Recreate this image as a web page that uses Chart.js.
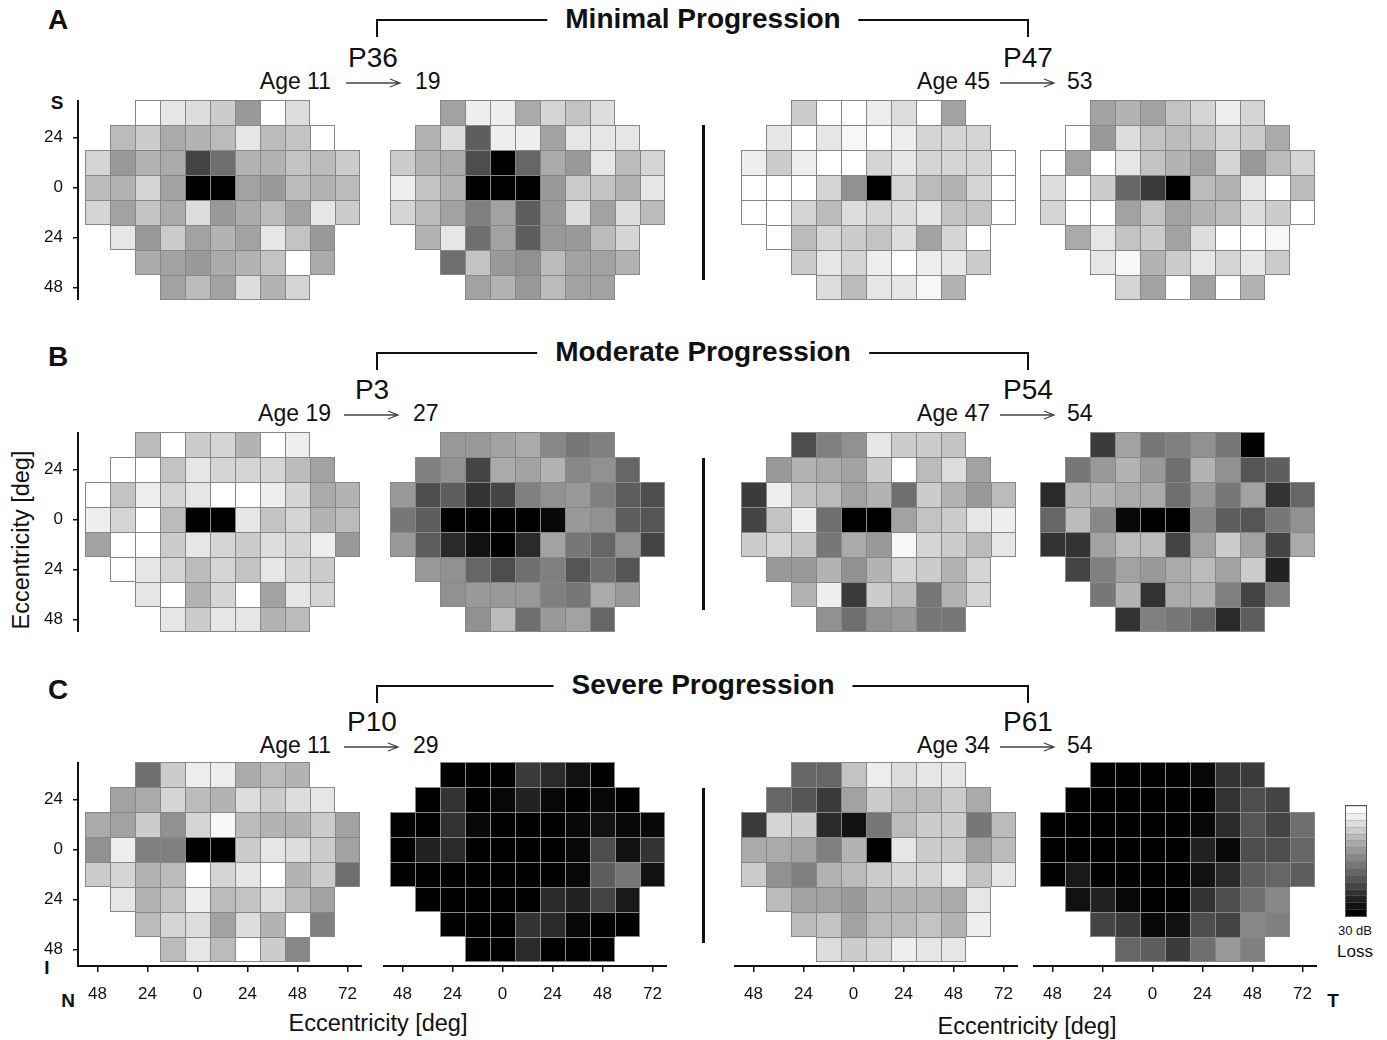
<!DOCTYPE html>
<html>
<head>
<meta charset="utf-8">
<script src="https://cdn.jsdelivr.net/npm/chart.js@4.4.1/dist/chart.umd.min.js"></script>
<style>
  body { margin: 0; background: #fff; width: 1387px; height: 1040px; position: relative; overflow: hidden;
         font-family: "Liberation Sans", Arial, sans-serif; color: #111; }
  .t { position: absolute; white-space: nowrap; line-height: 1; transform: translate(-50%, -50%); }
  .r { position: absolute; white-space: nowrap; line-height: 1; transform: translate(-100%, -50%); }
  .l { position: absolute; white-space: nowrap; line-height: 1; transform: translate(0, -50%); }
  .ln { position: absolute; background: #111; }
  .panel { position: absolute; }
  .ttl { font-weight: bold; font-size: 28px; background: #fff; padding: 0 18px; }
  .pid { font-size: 28px; }
  .age { font-size: 23px; }
  .big { font-weight: bold; font-size: 28px; }
  .ax { font-weight: bold; font-size: 19px; }
  .axt { font-size: 23.5px; }
</style>
</head>
<body>

<!-- panel letters -->
<div class="t big" style="left:58px;top:20px">A</div>
<div class="t big" style="left:58px;top:357px">B</div>
<div class="t big" style="left:58px;top:690px">C</div>

<!-- brackets -->
<div class="ln" style="left:376px;top:19px;width:653px;height:2px"></div>
<div class="ln" style="left:376px;top:19px;width:2px;height:18px"></div>
<div class="ln" style="left:1027px;top:19px;width:2px;height:18px"></div>
<div class="ln" style="left:376px;top:352px;width:653px;height:2px"></div>
<div class="ln" style="left:376px;top:352px;width:2px;height:18px"></div>
<div class="ln" style="left:1027px;top:352px;width:2px;height:18px"></div>
<div class="ln" style="left:376px;top:685px;width:653px;height:2px"></div>
<div class="ln" style="left:376px;top:685px;width:2px;height:18px"></div>
<div class="ln" style="left:1027px;top:685px;width:2px;height:18px"></div>

<div class="t ttl" style="left:703px;top:19px">Minimal Progression</div>
<div class="t ttl" style="left:703px;top:352px">Moderate Progression</div>
<div class="t ttl" style="left:703px;top:685px">Severe Progression</div>

<!-- patient ids and ages -->
<div class="t pid" style="left:373px;top:58px">P36</div>
<div class="t pid" style="left:1028px;top:58px">P47</div>
<div class="t pid" style="left:372px;top:390px">P3</div>
<div class="t pid" style="left:1028px;top:390px">P54</div>
<div class="t pid" style="left:372px;top:722px">P10</div>
<div class="t pid" style="left:1028px;top:722px">P61</div>

<div class="r age" style="left:331px;top:81px">Age 11</div>
<div class="l age" style="left:415px;top:81px">19</div>
<div class="r age" style="left:990px;top:81px">Age 45</div>
<div class="l age" style="left:1067px;top:81px">53</div>
<div class="r age" style="left:331px;top:413px">Age 19</div>
<div class="l age" style="left:413px;top:413px">27</div>
<div class="r age" style="left:990px;top:413px">Age 47</div>
<div class="l age" style="left:1067px;top:413px">54</div>
<div class="r age" style="left:331px;top:745px">Age 11</div>
<div class="l age" style="left:413px;top:745px">29</div>
<div class="r age" style="left:990px;top:745px">Age 34</div>
<div class="l age" style="left:1067px;top:745px">54</div>

<svg style="position:absolute;left:0;top:0" width="1387" height="1040">
  <g stroke="#444" stroke-width="1.3" fill="none">
    <path d="M346 83 H400 M390 79 L400 83 L390 87"/>
    <path d="M1000 83 H1054 M1044 79 L1054 83 L1044 87"/>
    <path d="M344 415 H398 M388 411 L398 415 L388 419"/>
    <path d="M1000 415 H1054 M1044 411 L1054 415 L1044 419"/>
    <path d="M344 747 H398 M388 743 L398 747 L388 751"/>
    <path d="M1000 747 H1054 M1044 743 L1054 747 L1044 751"/>
  </g>
</svg>

<!-- separators between the two patients of a row -->
<div class="ln" style="left:702px;top:125px;width:3px;height:155px"></div>
<div class="ln" style="left:702px;top:458px;width:3px;height:152px"></div>
<div class="ln" style="left:702px;top:788px;width:3px;height:155px"></div>

<!-- axis letters and titles -->
<div class="t ax" style="left:57px;top:102px">S</div>
<div class="t ax" style="left:47px;top:967px">I</div>
<div class="t ax" style="left:68px;top:1000px">N</div>
<div class="t ax" style="left:1333px;top:1000px">T</div>
<div class="t axt" style="left:378px;top:1024px">Eccentricity [deg]</div>
<div class="t axt" style="left:1027px;top:1027px">Eccentricity [deg]</div>
<div class="t axt" style="left:22px;top:540px;transform:translate(-50%,-50%) rotate(-90deg)">Eccentricity [deg]</div>

<!-- colour scale -->
<div id="cbar" style="position:absolute;left:1345px;top:805px;width:20px;height:110px;border:1px solid #555;display:flex;flex-direction:column"></div>
<div class="t" style="left:1355px;top:930px;font-size:13px">30 dB</div>
<div class="t" style="left:1355px;top:951px;font-size:17px">Loss</div>

<div id="charts"></div>

<script>
// Perimetry grids: 8 rows x 11 columns (12 deg spacing), loss in dB (0 = white, 30 = black)
const colDeg = [-48, -36, -24, -12, 0, 12, 24, 36, 48, 60, 72];
const rowDeg = [36, 24, 12, 0, -12, -24, -36, -48];
const rowFirstCol = [2, 1, 0, 0, 0, 1, 2, 3];
const xTicks = [-48, -24, 0, 24, 48, 72];
const yTicks = [24, 0, -24, -48];
const MAX_LOSS = 30;

const p36Age11 = [
  [0, 3, 4, 6, 12, 0, 4],
  [8, 6, 10, 9, 8, 3, 8, 7, 0],
  [5, 12, 9, 10, 22, 17, 9, 9, 7, 8, 6],
  [8, 9, 5, 11, 30, 30, 11, 12, 8, 9, 8],
  [5, 11, 7, 10, 4, 12, 10, 8, 11, 3, 6],
  [3, 12, 6, 11, 9, 11, 3, 7, 12],
  [10, 11, 12, 10, 9, 7, 0, 10],
  [11, 8, 11, 4, 9, 5]
];
const p36Age19 = [
  [11, 2, 2, 10, 5, 7, 4],
  [9, 4, 19, 2, 2, 11, 3, 3, 3],
  [6, 9, 10, 21, 30, 18, 10, 12, 3, 8, 5],
  [2, 7, 9, 30, 30, 30, 12, 6, 7, 9, 3],
  [5, 8, 11, 15, 11, 19, 12, 4, 11, 4, 8],
  [9, 3, 17, 11, 19, 12, 12, 8, 5],
  [17, 7, 12, 13, 8, 11, 11, 9],
  [11, 9, 12, 8, 11, 11]
];
const p47Age45 = [
  [6, 0, 0, 2, 4, 0, 11],
  [3, 0, 3, 1, 0, 2, 5, 5, 5],
  [2, 6, 2, 0, 0, 5, 3, 5, 5, 5, 0],
  [0, 0, 0, 5, 13, 30, 5, 8, 9, 5, 0],
  [0, 0, 5, 8, 4, 5, 4, 3, 7, 7, 0],
  [0, 8, 5, 6, 7, 4, 11, 5, 0],
  [6, 3, 5, 2, 0, 2, 3, 6],
  [4, 8, 3, 3, 1, 9]
];
const p47Age53 = [
  [11, 9, 11, 7, 5, 2, 5],
  [0, 12, 4, 7, 8, 7, 5, 6, 10],
  [0, 11, 0, 3, 7, 9, 11, 5, 12, 8, 5],
  [4, 0, 6, 18, 23, 30, 8, 9, 3, 0, 8],
  [5, 0, 0, 11, 7, 11, 9, 8, 4, 6, 0],
  [10, 3, 7, 6, 11, 4, 0, 0, 1],
  [3, 1, 9, 6, 3, 5, 3, 6],
  [5, 11, 0, 11, 0, 9]
];
const p3Age19 = [
  [8, 0, 6, 5, 9, 0, 2],
  [0, 0, 7, 3, 5, 5, 5, 8, 11],
  [0, 7, 2, 5, 3, 0, 0, 2, 5, 10, 9],
  [2, 5, 0, 8, 30, 30, 3, 7, 5, 9, 8],
  [11, 0, 0, 6, 3, 5, 6, 4, 5, 2, 12],
  [0, 3, 5, 8, 5, 7, 3, 5, 6],
  [3, 0, 9, 5, 0, 11, 3, 5],
  [3, 6, 3, 3, 9, 8]
];
const p3Age27 = [
  [12, 12, 11, 10, 14, 16, 15],
  [15, 13, 22, 10, 11, 9, 14, 13, 18],
  [12, 21, 19, 24, 22, 15, 13, 12, 15, 19, 21],
  [16, 19, 30, 30, 30, 30, 29, 12, 13, 19, 20],
  [12, 19, 25, 28, 30, 25, 11, 16, 18, 13, 22],
  [12, 13, 18, 21, 17, 15, 20, 17, 20],
  [13, 12, 12, 12, 15, 16, 10, 12],
  [13, 8, 17, 12, 11, 18]
];
const p54Age47 = [
  [21, 15, 13, 3, 6, 6, 7],
  [12, 9, 10, 11, 6, 0, 8, 4, 11],
  [23, 2, 7, 8, 11, 9, 17, 6, 9, 12, 8],
  [22, 7, 2, 17, 30, 30, 11, 7, 6, 3, 2],
  [6, 5, 7, 16, 10, 12, 1, 5, 6, 8, 3],
  [12, 12, 9, 13, 9, 5, 6, 9, 5],
  [9, 2, 23, 6, 8, 16, 9, 5],
  [13, 17, 13, 12, 16, 16]
];
const p54Age54 = [
  [23, 11, 16, 15, 13, 16, 30],
  [16, 12, 9, 12, 17, 9, 13, 20, 19],
  [25, 9, 9, 10, 10, 17, 12, 16, 11, 24, 18],
  [18, 8, 14, 29, 30, 30, 14, 19, 20, 16, 13],
  [24, 24, 11, 8, 8, 22, 11, 6, 11, 22, 10],
  [22, 15, 11, 12, 10, 8, 11, 6, 26],
  [16, 9, 24, 10, 9, 15, 22, 15],
  [24, 15, 16, 18, 25, 19]
];
const p10Age11 = [
  [17, 6, 2, 2, 10, 8, 9],
  [11, 10, 5, 8, 9, 4, 6, 4, 3],
  [10, 11, 6, 13, 5, 1, 8, 9, 9, 6, 11],
  [13, 2, 15, 15, 30, 30, 6, 3, 4, 6, 11],
  [6, 5, 9, 8, 0, 5, 3, 0, 9, 6, 17],
  [3, 9, 7, 2, 8, 7, 4, 8, 11],
  [8, 5, 4, 11, 4, 9, 0, 15],
  [8, 3, 8, 0, 6, 14]
];
const p10Age29 = [
  [30, 30, 30, 23, 25, 28, 30],
  [30, 24, 30, 29, 26, 29, 30, 29, 30],
  [30, 30, 24, 29, 30, 30, 30, 29, 28, 29, 29],
  [30, 26, 25, 30, 30, 30, 30, 29, 21, 28, 24],
  [30, 30, 30, 30, 30, 30, 30, 29, 19, 16, 28],
  [30, 30, 30, 30, 30, 25, 26, 22, 27],
  [30, 30, 30, 24, 25, 29, 30, 30],
  [30, 30, 25, 30, 30, 30]
];
const p61Age34 = [
  [18, 18, 7, 2, 4, 3, 3],
  [18, 20, 23, 11, 6, 8, 8, 6, 10],
  [23, 5, 6, 25, 28, 16, 8, 6, 6, 16, 8],
  [10, 10, 11, 15, 9, 30, 3, 6, 6, 11, 8],
  [6, 13, 15, 9, 8, 6, 5, 5, 3, 7, 3],
  [8, 11, 11, 12, 9, 9, 9, 10, 3],
  [8, 7, 11, 8, 8, 7, 9, 2],
  [4, 6, 5, 2, 3, 3]
];
const p61Age54 = [
  [30, 30, 30, 30, 29, 24, 23],
  [30, 30, 30, 30, 30, 30, 24, 21, 22],
  [30, 30, 30, 30, 30, 30, 29, 25, 20, 22, 17],
  [30, 30, 30, 30, 30, 30, 26, 29, 21, 21, 18],
  [30, 27, 30, 30, 30, 30, 28, 25, 19, 18, 19],
  [28, 26, 29, 30, 30, 24, 21, 17, 14],
  [22, 23, 29, 28, 21, 22, 14, 15],
  [18, 19, 23, 17, 12, 15]
];

// page layout of the twelve grids (left/top of the cell block)
const panels = [
  { field: p36Age11, left: 85,   top: 100, yAxis: true,  xAxis: false },
  { field: p36Age19, left: 390,  top: 100, yAxis: false, xAxis: false },
  { field: p47Age45, left: 741,  top: 100, yAxis: false, xAxis: false },
  { field: p47Age53, left: 1040, top: 100, yAxis: false, xAxis: false },
  { field: p3Age19,  left: 85,   top: 432, yAxis: true,  xAxis: false },
  { field: p3Age27,  left: 390,  top: 432, yAxis: false, xAxis: false },
  { field: p54Age47, left: 741,  top: 432, yAxis: false, xAxis: false },
  { field: p54Age54, left: 1040, top: 432, yAxis: false, xAxis: false },
  { field: p10Age11, left: 85,   top: 762, yAxis: true,  xAxis: true },
  { field: p10Age29, left: 390,  top: 762, yAxis: false, xAxis: true },
  { field: p61Age34, left: 741,  top: 762, yAxis: false, xAxis: true },
  { field: p61Age54, left: 1040, top: 762, yAxis: false, xAxis: true }
];

const CELL_PX = 25;
const PPD = CELL_PX / 12;     // pixels per degree
const HALF = 6;               // half a cell, degrees
const AXIS_W = 40, AXIS_H = 45;
const PAD_L = 7, PAD_R = 2, PAD_B = 4;
const FONT = '"Liberation Sans", Arial, sans-serif';

Chart.defaults.font.family = FONT;
Chart.defaults.color = '#111';

function lossColor(v) {
  const g = Math.round(255 * (1 - v / MAX_LOSS));
  return `rgb(${g},${g},${g})`;
}

function inField(field, r, c) {
  if (r < 0 || r >= field.length) return false;
  const first = rowFirstCol[r];
  return c >= first && c < first + field[r].length;
}

function buildDatasets(field) {
  return field.map((row, r) => ({
    data: row.map((loss, i) => ({
      x: colDeg[rowFirstCol[r] + i],
      y: [rowDeg[r] - HALF, rowDeg[r] + HALF],
      loss: loss
    })),
    backgroundColor: ctx => ctx.raw ? lossColor(ctx.raw.loss) : '#fff',
    borderColor: '#878787',
    borderWidth: ctx => {
      if (ctx.dataIndex === undefined) return 1;
      const c = rowFirstCol[r] + ctx.dataIndex;
      return {
        top: 1, left: 1,
        right: inField(field, r, c + 1) ? 0 : 1,
        bottom: inField(field, r + 1, c) ? 0 : 1
      };
    },
    borderSkipped: false,
    grouped: false,
    inflateAmount: 0,
    barPercentage: 1,
    categoryPercentage: 1
  }));
}

function makePanel(p) {
  const w = (p.yAxis ? AXIS_W : 0) + PAD_L + colDeg.length * CELL_PX + PAD_R;
  const h = rowDeg.length * CELL_PX + (p.xAxis ? PAD_B + AXIS_H : 0);
  const div = document.createElement('div');
  div.className = 'panel';
  div.style.left = (p.left - PAD_L - (p.yAxis ? AXIS_W : 0)) + 'px';
  div.style.top = p.top + 'px';
  div.style.width = w + 'px';
  div.style.height = h + 'px';
  const canvas = document.createElement('canvas');
  div.appendChild(canvas);
  document.getElementById('charts').appendChild(div);

  new Chart(canvas, {
    type: 'bar',
    data: { datasets: buildDatasets(p.field) },
    options: {
      responsive: true,
      maintainAspectRatio: false,
      animation: false,
      events: [],
      layout: { padding: 0 },
      plugins: { legend: { display: false }, tooltip: { enabled: false } },
      scales: {
        x: {
          type: 'linear',
          position: 'bottom',
          offset: false,
          display: p.xAxis,
          min: colDeg[0] - HALF - PAD_L / PPD,
          max: colDeg[colDeg.length - 1] + HALF + PAD_R / PPD,
          afterBuildTicks: s => { s.ticks = xTicks.map(v => ({ value: v })); },
          afterFit: s => { s.height = p.xAxis ? AXIS_H : 0; s.paddingLeft = 0; s.paddingRight = 0; },
          border: { display: true, color: '#111', width: 2 },
          grid: { offset: false, drawOnChartArea: false, drawTicks: true, tickLength: 6, color: '#111', lineWidth: 1.5 },
          ticks: { padding: 12, color: '#111', font: { size: 17 }, maxRotation: 0,
                   callback: v => Math.abs(v) }
        },
        y: {
          type: 'linear',
          position: 'left',
          display: p.yAxis,
          min: rowDeg[rowDeg.length - 1] - HALF - (p.xAxis ? PAD_B / PPD : 0),
          max: rowDeg[0] + HALF,
          afterBuildTicks: s => { s.ticks = yTicks.map(v => ({ value: v })); },
          afterFit: s => { s.width = p.yAxis ? AXIS_W : 0; s.paddingTop = 0; s.paddingBottom = 0; },
          border: { display: true, color: '#111', width: 2 },
          grid: { drawOnChartArea: false, drawTicks: true, tickLength: 5, color: '#111', lineWidth: 1.5 },
          ticks: { padding: 10, color: '#111', font: { size: 17 },
                   callback: v => Math.abs(v) }
        }
      }
    }
  });
}

panels.forEach(makePanel);

// colour scale bands, white (0 dB) to black (30 dB)
const cbar = document.getElementById('cbar');
for (let v = 0; v <= MAX_LOSS; v += 2) {
  const band = document.createElement('div');
  band.style.flex = '1';
  band.style.background = lossColor(v);
  band.style.borderTop = '1px solid rgba(140,140,140,0.35)';
  cbar.appendChild(band);
}
</script>
</body>
</html>
